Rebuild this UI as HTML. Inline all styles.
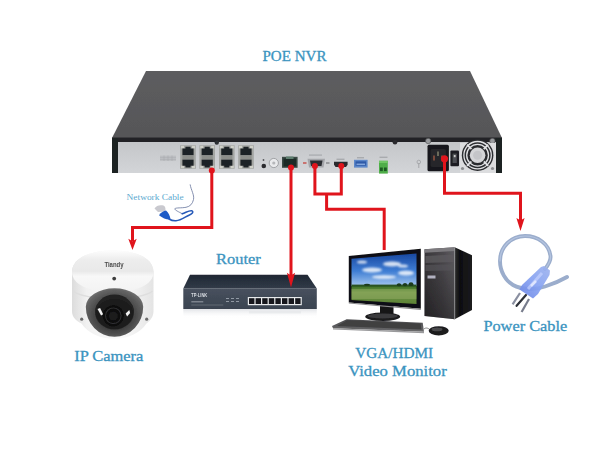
<!DOCTYPE html>
<html><head><meta charset="utf-8">
<style>
html,body{margin:0;padding:0;background:#fff;}
body{width:600px;height:450px;overflow:hidden;font-family:"Liberation Serif",serif;}
svg{display:block;position:absolute;left:0;top:0;}
text{font-family:"Liberation Serif",serif;}
</style></head><body>
<svg width="600" height="450" viewBox="0 0 600 450">
<defs>
  <linearGradient id="nvrTop" x1="0" y1="0" x2="0" y2="1">
    <stop offset="0" stop-color="#5d5d5f"/><stop offset="1" stop-color="#565658"/>
  </linearGradient>
  <linearGradient id="panel" x1="0" y1="0" x2="0" y2="1">
    <stop offset="0" stop-color="#c4c6c9"/><stop offset="1" stop-color="#d3d5d8"/>
  </linearGradient>
  <linearGradient id="sky" x1="0" y1="0" x2="0" y2="1">
    <stop offset="0" stop-color="#1846a0"/><stop offset="0.55" stop-color="#3f7ed4"/><stop offset="1" stop-color="#a4c6ee"/>
  </linearGradient>
  <linearGradient id="grass" x1="0" y1="0" x2="0" y2="1">
    <stop offset="0" stop-color="#3a6e22"/><stop offset="0.35" stop-color="#6f9444"/><stop offset="1" stop-color="#5c8236"/>
  </linearGradient>
  <linearGradient id="tower" x1="0" y1="0" x2="1" y2="0">
    <stop offset="0" stop-color="#4b4b4d"/><stop offset="1" stop-color="#6a6a6c"/>
  </linearGradient>
  <radialGradient id="dome" cx="0.45" cy="0.3" r="0.8">
    <stop offset="0" stop-color="#ffffff"/><stop offset="0.6" stop-color="#eeeeee"/><stop offset="1" stop-color="#cfcfcf"/>
  </radialGradient>
  <filter id="b1"><feGaussianBlur stdDeviation="0.5"/></filter>
  <filter id="b2"><feGaussianBlur stdDeviation="1.2"/></filter>
</defs>

<!-- ===== NVR ===== -->
<g id="nvr" filter="url(#b1)">
  <polygon points="146,71 470,71 502,138 112,138" fill="url(#nvrTop)"/>
  <rect x="112" y="137.5" width="390" height="5.5" fill="#222326"/>
  <rect x="112" y="142" width="390" height="31" fill="url(#panel)"/>
  <rect x="112" y="138" width="6" height="35" fill="#1f2023"/>
  <rect x="496" y="138" width="6" height="35" fill="#1f2023"/>

  <!-- small label -->
  <rect x="160" y="155.5" width="16" height="5.5" fill="#bfc1c4"/>
  <g stroke="#a9abae" stroke-width="0.6"><line x1="160" y1="157.3" x2="176" y2="157.3"/><line x1="160" y1="159.3" x2="176" y2="159.3"/><line x1="164" y1="155.5" x2="164" y2="161"/><line x1="168" y1="155.5" x2="168" y2="161"/><line x1="172" y1="155.5" x2="172" y2="161"/></g>
  
<rect x="180.2" y="145.2" width="15.6" height="23.6" fill="#a4a6a3"/>
<rect x="181.0" y="145.8" width="3" height="2.6" fill="#cfd0c8"/><rect x="192.0" y="145.8" width="3" height="2.6" fill="#cfd0c8"/>
<rect x="181.0" y="165.6" width="3" height="2.6" fill="#cfd0c8"/><rect x="192.0" y="165.6" width="3" height="2.6" fill="#cfd0c8"/>
<path d="M182.39999999999998 148.6 h3 v-1.8 h5.2 v1.8 h3 v6.6 h-11.2z" fill="#1f2326"/>
<path d="M182.39999999999998 159.4 h11.2 v6.4 h-3 v1.8 h-5.2 v-1.8 h-3z" fill="#1f2326"/>
<rect x="182.39999999999998" y="155.4" width="11.2" height="3.8" fill="#8c8e8a"/>
<rect x="199.4" y="145.2" width="15.6" height="23.6" fill="#a4a6a3"/>
<rect x="200.20000000000002" y="145.8" width="3" height="2.6" fill="#cfd0c8"/><rect x="211.20000000000002" y="145.8" width="3" height="2.6" fill="#cfd0c8"/>
<rect x="200.20000000000002" y="165.6" width="3" height="2.6" fill="#cfd0c8"/><rect x="211.20000000000002" y="165.6" width="3" height="2.6" fill="#cfd0c8"/>
<path d="M201.6 148.6 h3 v-1.8 h5.2 v1.8 h3 v6.6 h-11.2z" fill="#1f2326"/>
<path d="M201.6 159.4 h11.2 v6.4 h-3 v1.8 h-5.2 v-1.8 h-3z" fill="#1f2326"/>
<rect x="201.6" y="155.4" width="11.2" height="3.8" fill="#8c8e8a"/>
<rect x="219" y="145.2" width="15.6" height="23.6" fill="#a4a6a3"/>
<rect x="219.8" y="145.8" width="3" height="2.6" fill="#cfd0c8"/><rect x="230.8" y="145.8" width="3" height="2.6" fill="#cfd0c8"/>
<rect x="219.8" y="165.6" width="3" height="2.6" fill="#cfd0c8"/><rect x="230.8" y="165.6" width="3" height="2.6" fill="#cfd0c8"/>
<path d="M221.2 148.6 h3 v-1.8 h5.2 v1.8 h3 v6.6 h-11.2z" fill="#1f2326"/>
<path d="M221.2 159.4 h11.2 v6.4 h-3 v1.8 h-5.2 v-1.8 h-3z" fill="#1f2326"/>
<rect x="221.2" y="155.4" width="11.2" height="3.8" fill="#8c8e8a"/>
<rect x="238.2" y="145.2" width="15.6" height="23.6" fill="#a4a6a3"/>
<rect x="239.0" y="145.8" width="3" height="2.6" fill="#cfd0c8"/><rect x="250.0" y="145.8" width="3" height="2.6" fill="#cfd0c8"/>
<rect x="239.0" y="165.6" width="3" height="2.6" fill="#cfd0c8"/><rect x="250.0" y="165.6" width="3" height="2.6" fill="#cfd0c8"/>
<path d="M240.39999999999998 148.6 h3 v-1.8 h5.2 v1.8 h3 v6.6 h-11.2z" fill="#1f2326"/>
<path d="M240.39999999999998 159.4 h11.2 v6.4 h-3 v1.8 h-5.2 v-1.8 h-3z" fill="#1f2326"/>
<rect x="240.39999999999998" y="155.4" width="11.2" height="3.8" fill="#8c8e8a"/>
  <circle cx="216.8" cy="142.6" r="2.2" fill="#2c2d30"/>
  <!-- audio + bnc -->
  <circle cx="263.8" cy="166" r="2.3" fill="#2a2b2e"/>
  <circle cx="263.5" cy="160" r="0.9" fill="#55575a"/>
  <circle cx="273.8" cy="163" r="4.6" fill="#e9eaec" stroke="#9a9c9f" stroke-width="0.9"/>
  <circle cx="273.8" cy="163" r="1.6" fill="#b5b7ba"/>
  <!-- LAN -->
  <rect x="282" y="156.8" width="15.6" height="11" fill="#3a4a45"/>
  <rect x="283.5" y="158.5" width="12.6" height="8" fill="#1f2a28"/>
  <rect x="286" y="156.5" width="7.5" height="2.5" fill="#5d7d6e"/>
  <!-- VGA -->
  <rect x="303" y="162" width="3.5" height="2" fill="#c9736f"/>
  <rect x="326" y="162" width="3.5" height="2" fill="#9a9c9f"/>
  <rect x="309" y="154.3" width="13" height="1.6" fill="#b0b2b5"/>
  <path d="M307.5 158.8 h17.5 l-1.5 8.8 h-14.5z" fill="#a4a6aa"/>
  <path d="M310 160.6 h12.5 l-1 5.4 h-10.5z" fill="#2b2d33"/>
  <!-- HDMI -->
  <rect x="336.5" y="158.6" width="8" height="1.4" fill="#a9abae"/>
  <path d="M334 161.8 h13.6 v3 l-1.6 2.2 h-10.4 l-1.6 -2.2z" fill="#2a2b2f"/>
  <!-- USB -->
  <rect x="357" y="157" width="7" height="1.4" fill="#a9abae"/>
  <rect x="354" y="159.8" width="13.6" height="7.8" fill="#5b87c9"/>
  <rect x="355.5" y="161.3" width="10.6" height="4.4" fill="#2f5aa8"/>
  <rect x="356.5" y="163.6" width="8.6" height="1.3" fill="#8db0e2"/>
  <!-- terminal -->
  <rect x="379.5" y="156.6" width="8" height="1.4" fill="#a9abae"/>
  <rect x="379" y="160.8" width="8.8" height="12.8" fill="#4fae4a"/>
  <rect x="380" y="167.5" width="2.8" height="3.6" fill="#1d5a22"/>
  <rect x="384" y="167.5" width="2.8" height="3.6" fill="#1d5a22"/>
  <rect x="379" y="160.8" width="8.8" height="2.2" fill="#6fc665"/>
  <!-- screws -->
  <circle cx="395" cy="142.3" r="2.3" fill="#2b2c2f"/>
  <circle cx="428.2" cy="141" r="2.7" fill="#9a9c9f" stroke="#4a4b4e" stroke-width="0.6"/>
  <circle cx="492.4" cy="141" r="2.7" fill="#9a9c9f" stroke="#4a4b4e" stroke-width="0.6"/>
  <!-- ground -->
  <circle cx="418.8" cy="162" r="1.8" fill="none" stroke="#9fa1a4" stroke-width="0.8"/>
  <line x1="418.8" y1="163" x2="418.8" y2="168" stroke="#9fa1a4" stroke-width="0.9"/>
  <!-- power socket -->
  <rect x="427.5" y="144.8" width="21.4" height="26.4" rx="1.5" fill="#17181a"/>
  <rect x="430.5" y="149" width="15.4" height="18" rx="2" fill="#26272a"/>
  <rect x="433" y="155.5" width="2" height="5" fill="#7a4a3a"/>
  <rect x="441" y="155.5" width="2" height="5" fill="#7a4a3a"/>
  <rect x="437" y="151.5" width="2" height="4.5" fill="#6a6a5a"/>
  <!-- switch -->
  <rect x="450.4" y="150.4" width="8.6" height="15.8" rx="1" fill="#1c1d20"/>
  <rect x="452.6" y="153.6" width="4.2" height="9.4" fill="#4c4e52"/><rect x="453.8" y="155" width="1.8" height="2.2" fill="#c8c8c8"/>
  <!-- fan panel -->
  <rect x="460" y="143" width="36" height="30" fill="#dcdddf"/>
  <circle cx="477.6" cy="155.2" r="15.8" fill="#2c2d30"/>
  <circle cx="477.6" cy="155.2" r="13.7" fill="none" stroke="#e2e3e6" stroke-width="1.3"/><circle cx="477.6" cy="155.2" r="10.9" fill="none" stroke="#e2e3e6" stroke-width="1.3"/>
  <g stroke="#e2e3e6" stroke-width="1.8"><line x1="467" y1="144.6" x2="488.2" y2="165.8"/><line x1="488.2" y1="144.6" x2="467" y2="165.8"/></g>
  <circle cx="477.6" cy="155.2" r="8.8" fill="#2c2d30"/>
  <circle cx="477.6" cy="155.2" r="7.8" fill="#d4d5d8"/>
  <circle cx="477.6" cy="155.2" r="4.5" fill="#c4c5c9"/>
  <circle cx="462.5" cy="168.5" r="1.6" fill="#8d8f92"/>
  <circle cx="492.5" cy="168.5" r="1.6" fill="#8d8f92"/>
</g>


<!-- ===== camera ===== -->
<defs>
  <linearGradient id="camBody" x1="0" y1="0" x2="1" y2="0">
    <stop offset="0" stop-color="#dcdcdc"/><stop offset="0.18" stop-color="#f1f1f1"/><stop offset="0.6" stop-color="#fbfbfb"/><stop offset="1" stop-color="#e4e4e4"/>
  </linearGradient>
  <linearGradient id="camLid" x1="0" y1="0" x2="0" y2="1">
    <stop offset="0" stop-color="#fdfdfd"/><stop offset="0.22" stop-color="#ededed"/><stop offset="0.5" stop-color="#e9e9e9"/><stop offset="0.62" stop-color="#f8f8f8"/><stop offset="1" stop-color="#f3f3f3"/>
  </linearGradient>
  <radialGradient id="camDome" cx="0.5" cy="0.55" r="0.6">
    <stop offset="0" stop-color="#262626"/><stop offset="0.55" stop-color="#444"/><stop offset="0.85" stop-color="#626262"/><stop offset="1" stop-color="#7c7c7c"/>
  </radialGradient>
</defs>
<g id="camera" filter="url(#b1)">
  <path d="M72 272 C72 258 90 250.5 113 250.5 C136 250.5 153.5 258 153.5 272 L153.5 311 C153.5 317 150 321 146.5 323.5 C140 333 128 338.8 114 338.8 C100 338.8 88 333 81.5 323.5 C76 321 72 317 72 311 Z" fill="url(#camBody)"/>
  <path d="M72 272 C72 258 90 250.5 113 250.5 C136 250.5 153.5 258 153.5 272 C153.5 285 136 292 113 292 C90 292 72 285 72 272Z" fill="url(#camLid)"/>
  <path d="M73 291 C84 301 142 301 152.5 291" fill="none" stroke="#dedede" stroke-width="1.4"/>
  <path d="M85.8 306.7 A28.7 18.4 0 0 1 143.2 306.7 A28.7 30 0 0 1 85.8 306.7 Z" fill="url(#camDome)"/>
  <ellipse cx="114.5" cy="312" rx="19.5" ry="17.5" fill="#1c1c1c" opacity="0.9"/>
  <circle cx="113.3" cy="315.8" r="10.6" fill="#0b0b0b"/>
  <circle cx="113.3" cy="315.8" r="7.8" fill="none" stroke="#2e2e30" stroke-width="1.2"/>
  <circle cx="113.3" cy="316" r="4.6" fill="#1a1a1e"/>
  <path d="M97.5 309 l2.6 -1 l3 6.2 l-2 1.4 z" fill="#f4f4f4"/>
  <path d="M129.3 310 l-3.6 3.6 l1.4 3 l3 -3.6 z" fill="#f4f4f4"/>
  <circle cx="114.2" cy="278.6" r="1.9" fill="#3c3c3c"/>
  <circle cx="81.7" cy="319.2" r="1.6" fill="#6a6a6a"/>
  <circle cx="146.7" cy="319.2" r="1.6" fill="#6a6a6a"/>
  <text x="104.4" y="267" font-size="7.2" font-weight="bold" fill="#4a4a4a" style="font-family:'Liberation Sans',sans-serif" textLength="19.2" lengthAdjust="spacingAndGlyphs">Tiandy</text>
</g>

<!-- ===== router ===== -->
<defs>
  <linearGradient id="rtTop" x1="0" y1="0" x2="0" y2="1">
    <stop offset="0" stop-color="#1f2733"/><stop offset="1" stop-color="#323b48"/>
  </linearGradient>
  <linearGradient id="rtFront" x1="0" y1="0" x2="0" y2="1">
    <stop offset="0" stop-color="#48515e"/><stop offset="1" stop-color="#3a4350"/>
  </linearGradient>
  <linearGradient id="rtRefl" x1="0" y1="0" x2="0" y2="1">
    <stop offset="0" stop-color="#c8ccd2" stop-opacity="0.55"/><stop offset="1" stop-color="#ffffff" stop-opacity="0"/>
  </linearGradient>
</defs>
<g id="router" filter="url(#b1)">
  <polygon points="190,274.7 307.5,274.7 316.8,288.6 183.3,288.6" fill="url(#rtTop)"/>
  <rect x="183.3" y="288.4" width="133.5" height="20.6" fill="url(#rtFront)"/>
  <rect x="183.3" y="309" width="133.5" height="9" fill="url(#rtRefl)"/>
  <rect x="247.8" y="297" width="54" height="8.2" fill="#e8eaec"/>
  <g fill="#15181c">
    <rect x="249.0" y="298.2" width="5.4" height="5.8"/><rect x="255.6" y="298.2" width="5.4" height="5.8"/>
    <rect x="262.2" y="298.2" width="5.4" height="5.8"/><rect x="268.8" y="298.2" width="5.4" height="5.8"/>
    <rect x="275.4" y="298.2" width="5.4" height="5.8"/><rect x="282.0" y="298.2" width="5.4" height="5.8"/>
    <rect x="288.6" y="298.2" width="5.4" height="5.8"/><rect x="295.2" y="298.2" width="5.4" height="5.8"/>
  </g>
  <text x="191.3" y="296.6" font-size="4.6" font-weight="bold" fill="#d8dce2" style="font-family:'Liberation Sans',sans-serif" textLength="16" lengthAdjust="spacingAndGlyphs">TP-LINK</text>
  <rect x="191.3" y="301.2" width="12" height="1.2" fill="#8a929c"/>
  <rect x="191.3" y="304.6" width="32" height="0.8" fill="#6d7580"/>
  <g fill="#9aa2ac"><rect x="226" y="298" width="3" height="0.9"/><rect x="231" y="298" width="3" height="0.9"/><rect x="236" y="298" width="3" height="0.9"/><rect x="226" y="301" width="3" height="0.9"/><rect x="231" y="301" width="3" height="0.9"/><rect x="236" y="301" width="3" height="0.9"/></g>
  <g fill="#e3e5e8" opacity="0.6"><rect x="249" y="311" width="52" height="2.5"/></g>
</g>


<!-- ===== monitor + tower ===== -->
<defs>
  <linearGradient id="twFront" x1="0" y1="0" x2="1" y2="0">
    <stop offset="0" stop-color="#3a383b"/><stop offset="0.6" stop-color="#4e4b50"/><stop offset="1" stop-color="#605e63"/>
  </linearGradient>
  <linearGradient id="twSide" x1="0" y1="0" x2="1" y2="0">
    <stop offset="0" stop-color="#2a2a2c"/><stop offset="0.3" stop-color="#0e0e10"/><stop offset="1" stop-color="#1c1c1e"/>
  </linearGradient>
  <linearGradient id="kb" x1="0" y1="0" x2="0" y2="1">
    <stop offset="0" stop-color="#4a4a4c"/><stop offset="1" stop-color="#6a6a6c"/>
  </linearGradient>
  <clipPath id="scr"><polygon points="351.5,258.8 416.5,253.5 416.5,304.1 351.5,299.9"/></clipPath>
</defs>
<g id="pc" filter="url(#b1)">
  <!-- tower -->
  <polygon points="424.5,249.2 454.7,247.3 454.7,319.3 424.5,315.9" fill="url(#twFront)"/>
  <polygon points="454.7,247.3 472,255.3 472,310 454.7,319.3" fill="url(#twSide)"/>
  <linearGradient id="twDark" x1="0" y1="0" x2="0" y2="1"><stop offset="0" stop-color="#000" stop-opacity="0"/><stop offset="1" stop-color="#000" stop-opacity="0.4"/></linearGradient>
  <polygon points="424.5,249.2 454.7,247.3 454.7,319.3 424.5,315.9" fill="url(#twDark)"/>
  <polygon points="424.5,249.2 454.7,247.3 454.7,251 424.5,252.8" fill="#7c7a7e"/>
  <polygon points="425.5,256 453.7,254.6 453.7,262 425.5,263" fill="#5c5a5e" opacity="0.8"/>
  <polygon points="425.5,265 453.7,264.2 453.7,270.5 425.5,271" fill="#565458" opacity="0.7"/>
  <rect x="427.5" y="275.5" width="8" height="3" fill="#c8c8d8" opacity="0.85"/>
  <line x1="454.7" y1="247.3" x2="454.7" y2="319.3" stroke="#9a9a9c" stroke-width="0.8"/>
  <!-- monitor -->
  <rect x="380" y="302" width="13.5" height="14" fill="#151517"/>
  <ellipse cx="382.7" cy="316.8" rx="17.5" ry="4.2" fill="#1a1a1c"/>
  <ellipse cx="382.7" cy="316" rx="15" ry="2.6" fill="#3a3a3c"/>
  <polygon points="348.8,256.1 420.8,248.7 420.8,308.7 348.8,302.5" fill="#101012"/>
  <g clip-path="url(#scr)">
    <rect x="351" y="253" width="66" height="33" fill="url(#sky)"/>
    <rect x="351" y="285.8" width="66" height="19" fill="url(#grass)"/>
    <g fill="#ffffff" opacity="0.8" filter="url(#b2)">
      <ellipse cx="372" cy="270" rx="10" ry="2.6"/><ellipse cx="392" cy="264" rx="9" ry="2.4"/>
      <ellipse cx="406" cy="273" rx="8" ry="2.6"/><ellipse cx="362" cy="262" rx="5" ry="1.6"/>
      <ellipse cx="384" cy="277" rx="12" ry="1.8"/><ellipse cx="403" cy="266" rx="5" ry="1.6"/>
    </g>
    <rect x="351" y="284.6" width="66" height="2" fill="#2a5222"/>
    <g fill="#1d3a1c"><ellipse cx="399" cy="284.8" rx="2.2" ry="1.5"/><ellipse cx="405" cy="284.6" rx="2.2" ry="1.6"/><ellipse cx="411" cy="284.2" rx="2.4" ry="1.9"/><ellipse cx="367" cy="284.8" rx="3" ry="1"/></g>
    <rect x="351" y="289" width="66" height="10" fill="#a8bc78" opacity="0.35"/>
  </g>
  <polygon points="348.8,302.5 420.8,308.7 420.8,310 348.8,303.6" fill="#8a8a8c"/>
  <!-- keyboard -->
  <polygon points="346.7,319.3 422.7,322.8 424,331.8 333,328.2 332,326" fill="url(#kb)"/>
  <polygon points="347.5,320.3 420.5,323.6 421.5,329.4 337,326" fill="#3f3f41"/>
  <polygon points="333,328.2 424,331.8 424,333.2 333,329.6" fill="#9a9a9c"/>
  <!-- mouse -->
  <path d="M424 329 C426 327 429 328.5 430 330" fill="none" stroke="#555" stroke-width="0.7"/>
  <ellipse cx="438.7" cy="330.8" rx="10" ry="4.6" fill="#1a1a1c"/>
  <ellipse cx="437" cy="329.4" rx="5.5" ry="1.8" fill="#4a4a4c"/>
</g>

<!-- ===== power cable ===== -->
<defs>
  <linearGradient id="plug" x1="1" y1="0" x2="0" y2="1">
    <stop offset="0" stop-color="#9fb4ee"/><stop offset="0.5" stop-color="#86a2f2"/><stop offset="1" stop-color="#6d86e6"/>
  </linearGradient>
</defs>
<g id="power" filter="url(#b1)" fill="none" stroke-linecap="round">
  <path d="M545 269 C549 264 551 260 550.5 256 C549 244 538 236 525 236 C511 236 500 247 500 261 C500 272 506 281 513 285 C522 290 535 290 545 286.5 C553 284 560 281 567 277" stroke="#9badcc" stroke-width="3.9"/>
  <path d="M545 269 C549 264 551 260 550.5 256 C549 244 538 236 525 236 C511 236 500 247 500 261" stroke="#b4c4e0" stroke-width="1.2"/>
  <path d="M520 293 L512.6 304.4" stroke="#8a8fa0" stroke-width="2.2" stroke-linecap="butt"/>
  <path d="M526 295 L516.6 305.8" stroke="#2e3038" stroke-width="2.2"/>
  <path d="M529 299 L521.6 312" stroke="#777c8c" stroke-width="2.2" stroke-linecap="butt"/>
  <polygon points="544,266 550,270.5 549.5,275 538,294 533,298.5 519.5,289.5 522,285 541,267" fill="url(#plug)" stroke="none" opacity="0.92"/>
  <path d="M542 273 L528 289" stroke="#c4d2ff" stroke-width="3" stroke-linecap="butt" opacity="0.7"/>
  <path d="M536 281 L531 286" stroke="#e8eeff" stroke-width="2.5" stroke-linecap="butt" opacity="0.8"/>
</g>

<!-- ===== network cable pic ===== -->
<g id="netcable" filter="url(#b1)" fill="none" stroke-linecap="round">
  <path d="M190.2 184.8 C191 190 194.5 195 193.5 199.5 C192.5 204 190 206.5 186 207.3 C181 208.2 176.5 207.5 174.8 208.7 C174.5 210 179 212 182.2 213.7" stroke="#66749c" stroke-width="0.8"/>
  <path d="M182.2 213.7 C186 212.5 189.5 210 192 210.8 C194 212 192 214 189 215.2 C185 217 181 220.5 176 220.8 C173 221 171 220.3 169 219" stroke="#2559b8" stroke-width="1.5"/>
  <path d="M154.5 208.5 C156 205.5 160 204.5 163.5 205.5 C165.5 206.5 166 209 165 211.5 L158 212 Z" fill="#c9c9cf" stroke="none"/>
  <path d="M159 215.2 C161 212.5 163.5 211 166 210.6 C168 212 170 215.5 170.5 219.3 C168 220.2 163 218.5 159 215.2Z" fill="#1f5ac6" stroke="none"/>
</g>

<!-- ===== red lines ===== -->
<g id="lines" fill="none" stroke="#e0141c" stroke-width="3">
  <polyline points="211.8,170 211.8,227.5 132.5,227.5 132.5,241"/>
  <polyline points="291,167 291,276"/>
  <polyline points="314.9,166 314.9,194 341.3,194 341.3,166"/>
  <polyline points="326.6,194 326.6,209.3 384.2,209.3 384.2,250"/>
  <polyline points="444.5,159 444.5,193.3 520.5,193.3 520.5,222"/>
</g>
<g fill="#e0141c">
  <circle cx="211.8" cy="170.5" r="3"/>
  <circle cx="291" cy="167.5" r="3"/>
  <circle cx="314.9" cy="166" r="3"/>
  <circle cx="341.3" cy="166" r="3"/>
  <circle cx="444.5" cy="158.8" r="3.6"/>
  <polygon points="128.3,238.8 132.5,241.2 136.7,238.8 132.5,250"/>
  <polygon points="286.9,272.8 291,275.4 295.1,272.8 291,287.5"/>
  <polygon points="516.4,218 520.5,220.6 524.6,218 520.5,231"/>
</g>

<!-- ===== text ===== -->
<g fill="#3b94bf" stroke="#3b94bf" stroke-width="0.3">
  <text x="262.5" y="60.8" font-size="14.4" textLength="64" lengthAdjust="spacingAndGlyphs">POE NVR</text>
  <text x="126.6" y="199.5" font-size="8.8" textLength="57" lengthAdjust="spacingAndGlyphs" fill="#5aa9cf" stroke="none">Network Cable</text>
  <text x="74.2" y="360.8" font-size="14.5" textLength="69.2" lengthAdjust="spacingAndGlyphs">IP Camera</text>
  <text x="216" y="263.5" font-size="14.5" textLength="44.7" lengthAdjust="spacingAndGlyphs">Router</text>
  <text x="355.2" y="358.3" font-size="14.3" textLength="78" lengthAdjust="spacingAndGlyphs">VGA/HDMI</text>
  <text x="348.2" y="375.8" font-size="14.5" textLength="98.5" lengthAdjust="spacingAndGlyphs">Video Monitor</text>
  <text x="483.4" y="330.5" font-size="14.8" textLength="83.8" lengthAdjust="spacingAndGlyphs">Power Cable</text>
</g>
</svg>
</body></html>
